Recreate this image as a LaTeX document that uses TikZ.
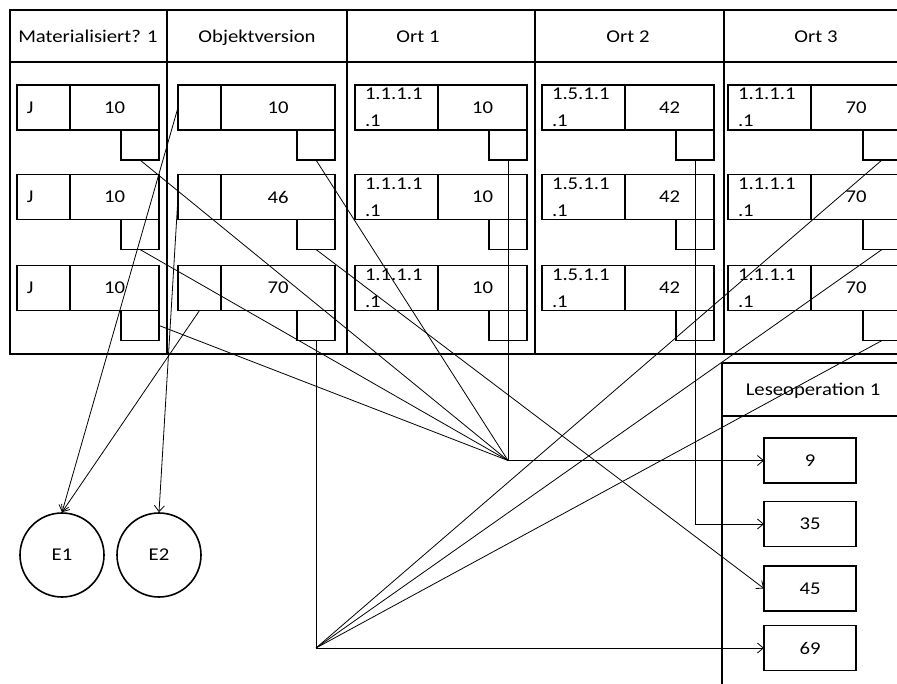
\documentclass[tikz,border=0pt]{standalone}
\usepackage{fontspec}
\setmainfont{Carlito}[FakeStretch=1.15]
\usetikzlibrary{arrows.meta}

% one entry: left cell, right cell and the pointer box below the right cell
% #1 name, #2 x, #3 y, #4 left width, #5 right width, #6 left text, #7 right text, #8 text width of left cell
\newcommand\eintrag[8]{%
  \node[cell, anchor=north west, minimum width=#4pt, inner xsep=10pt,
        text width=#8pt, align=left, font=\fontsize{18}{27}\selectfont] (#1l) at (#2,#3) {#6};
  \node[cell, anchor=north west, minimum width=#5pt] (#1r) at (#1l.north east) {#7};
  \node[cell, anchor=north east, minimum width=38pt, minimum height=30pt] (#1p) at (#1r.south east) {};
}

\begin{document}
\begin{tikzpicture}[x=1pt,y=-1pt,
  txt/.style={font=\fontsize{18}{26}\selectfont},
  head/.style={txt, anchor=base},
  frame/.style={draw, line width=1.6pt},
  cell/.style={draw, line width=1.6pt, rectangle, inner sep=0pt, outer sep=0pt,
               minimum height=45pt, txt},
  valbox/.style={cell, minimum width=92pt, minimum height=45pt},
  entity/.style={draw, line width=1.6pt, circle, minimum size=84pt, inner sep=0pt, txt},
  link/.style={draw, line width=0.8pt},
  arr/.style={link, -{Straight Barb[length=6pt,width=10pt]}},
]
\path[use as bounding box] (0,0) rectangle (897,683);
\clip (0,0) rectangle (897,683);

% table of entries: columns with header band
\foreach \xa/\xb in {10/167, 167/347, 347/535, 535/724, 724/913} {
  \draw[frame] (\xa,10) rectangle (\xb,354);
  \draw[frame] (\xa,62) -- (\xb,62);
}
\node[head] (hmat) at (88,42) {Materialisiert? 1};
\node[head] (hobj) at (257,42) {Objektversion};
\node[head] (hort1) at (418,42) {Ort 1};
\node[head] (hort2) at (628,42) {Ort 2};
\node[head] (hort3) at (816,42) {Ort 3};

% column "Materialisiert? 1"
\eintrag{m1}{17}{85}{53}{89}{J}{10}{33}
\eintrag{m2}{17}{174.5}{53}{89}{J}{10}{33}
\eintrag{m3}{17}{265.5}{53}{89}{J}{10}{33}
% column "Objektversion"
\eintrag{o1}{178}{85}{43}{114}{}{10}{23}
\eintrag{o2}{178}{174.5}{43}{114}{}{46}{23}
\eintrag{o3}{178}{265.5}{43}{114}{}{70}{23}
% column "Ort 1"
\eintrag{a1}{355}{85}{83}{89}{1.1.1.1\\.1}{10}{63}
\eintrag{a2}{355}{174.5}{83}{89}{1.1.1.1\\.1}{10}{63}
\eintrag{a3}{355}{265.5}{83}{89}{1.1.1.1\\.1}{10}{63}
% column "Ort 2"
\eintrag{b1}{542}{85}{83}{89}{1.5.1.1\\.1}{42}{63}
\eintrag{b2}{542}{174.5}{83}{89}{1.5.1.1\\.1}{42}{63}
\eintrag{b3}{542}{265.5}{83}{89}{1.5.1.1\\.1}{42}{63}
% column "Ort 3"
\eintrag{c1}{728}{85}{83}{90}{1.1.1.1\\.1}{70}{63}
\eintrag{c2}{728}{174.5}{83}{90}{1.1.1.1\\.1}{70}{63}
\eintrag{c3}{728}{265.5}{83}{90}{1.1.1.1\\.1}{70}{63}

% read operation
\draw[frame] (722,363) rectangle (930,700);
\draw[frame] (722,416) -- (930,416);
\node[head] (lese) at (813,395) {Leseoperation 1};
\node[valbox] (v9) at (810,460.5) {9};
\node[valbox] (v35) at (810,524) {35};
\node[valbox] (v45) at (810,588.5) {45};
\node[valbox] (v69) at (810,648) {69};

% entities
\node[entity] (e1) at (62,555) {E1};
\node[entity] (e2) at (159,555) {E2};

% junction points
\coordinate (h1) at (a1p.south |- v9.west);
\coordinate (h2) at (o3p.south |- v69.west);
\coordinate (k35) at (b1p.south |- v35.west);

% pointers collected at the first junction
\draw[link] (m1p.south) -- (h1);
\draw[link] (m2p.south) -- (h1);
\draw[link] (m3p.east) -- (h1);
\draw[link] (o1p.south) -- (h1);
\draw[link] (a1p.south) -- (h1);
\draw[arr] (h1) -- (v9.west);

% pointers collected at the second junction
\draw[link] (o3p.south) -- (h2);
\draw[link] (c1p.south) -- (h2);
\draw[link] (c2p.south) -- (h2);
\draw[link] (c3p.south) -- (h2);
\draw[arr] (h2) -- (v69.west);

% direct pointers
\draw[arr] (b1p.south) -- (k35) -- (v35.west);
\draw[arr] (o2p.south) -- (v45.west);

% version cells to entities
\draw[arr] (o1l.west) -- (e1.north);
\draw[arr] (o3l.south) -- (e1.north);
\draw[arr] (o2l.west) -- (e2.north);
\end{tikzpicture}
\end{document}
